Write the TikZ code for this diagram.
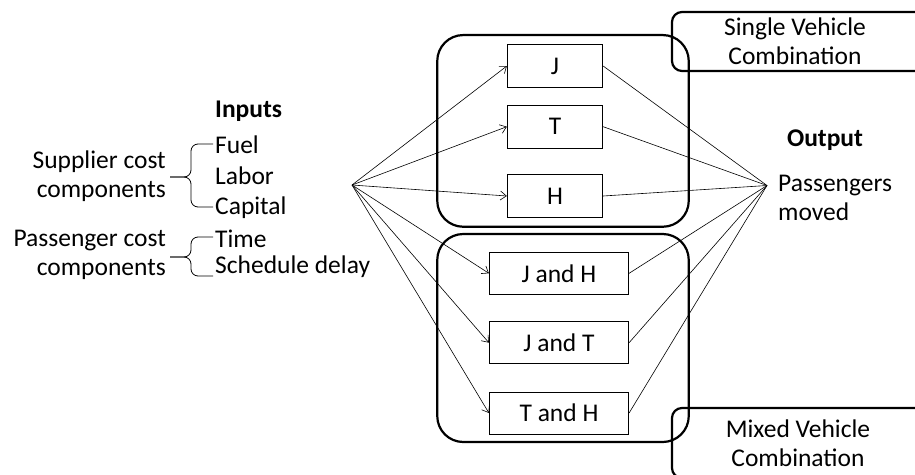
\documentclass[tikz,border=0pt]{standalone}
\usepackage{fontspec}
\setmainfont{Carlito}
\usetikzlibrary{arrows.meta}

\begin{document}
\begin{tikzpicture}[x=1pt,y=-1pt,
    every node/.style={font=\fontsize{25.5}{29}\selectfont, inner sep=0pt},
    mode/.style={draw, line width=0.8pt, minimum height=43pt},
    group/.style={draw, line width=2.2pt, rounded corners=26pt, minimum width=251.5pt},
    callout/.style={draw, line width=2.2pt, rounded corners=10pt},
    link/.style={line width=0.6pt},
    brace/.style={line width=0.8pt, rounded corners=7pt}]
      \clip (0,0) rectangle (915,474);
      % vehicle groups
      \node[group, minimum height=191.7pt] (single) at (563,130.9) {};
      \node[group, minimum height=208pt] (mixed) at (563,338) {};
      \draw[callout] (672,12) rectangle (960,71);
      \draw[callout] (672,408) rectangle (960,478);
      \node[align=center] (singlelbl) at (795,41) {Single Vehicle\\Combination};
      \node[align=center] (mixedlbl) at (798,443.5) {Mixed Vehicle\\Combination};
      % modes
      \node[mode, minimum width=95.5pt] (J) at (555,66) {J};
      \node[mode, minimum width=95.5pt] (T) at (555,126.7) {T};
      \node[mode, minimum width=95.5pt] (H) at (555,196) {H};
      \node[mode, minimum width=139.4pt, minimum height=42pt] (JH) at (559,273.3) {J and H};
      \node[mode, minimum width=139.4pt, minimum height=42pt] (JT) at (559,342.7) {J and T};
      \node[mode, minimum width=139.4pt, minimum height=42pt] (TH) at (559,413) {T and H};
      % inputs
      \node [anchor=base west] (inputs) at (215,117) {\textbf{Inputs}};
      \node [anchor=base west] (fuel) at (215,153) {Fuel};
      \node [anchor=base west] (labor) at (215,184) {Labor};
      \node [anchor=base west] (capital) at (215,214) {Capital};
      \node [anchor=base west] (time) at (215,247) {Time};
      \node [anchor=base west] (delay) at (215,273) {Schedule delay};
      \node [anchor=east, align=right] (supplier) at (166,176) {Supplier cost\\components};
      \node [anchor=east, align=right] (passenger) at (166,255) {Passenger cost\\components};
      \draw[brace] (213,144) -- (191,144) -- (191,177) -- (170,177);
      \draw[brace] (213,207) -- (191,207) -- (191,177) -- (170,177);
      \draw[brace] (213,237) -- (191,237) -- (191,257) -- (170,257);
      \draw[brace] (213,276) -- (191,276) -- (191,257) -- (170,257);
      % output
      \node [anchor=base] (output) at (825,146.7) {\textbf{Output}};
      \node [anchor=west, align=left] (moved) at (778,198) {Passengers\\moved};
      \coordinate (src) at (352,185);
      \coordinate (sink) at (767,185.5);
      \foreach \b in {J,T,H,JH,JT,TH} {
        \draw[link, -{Straight Barb[length=6pt,width=9pt]}] (src) -- (\b.west);
        \draw[link] (\b.east) -- (sink);
      }
    \end{tikzpicture}
\end{document}
